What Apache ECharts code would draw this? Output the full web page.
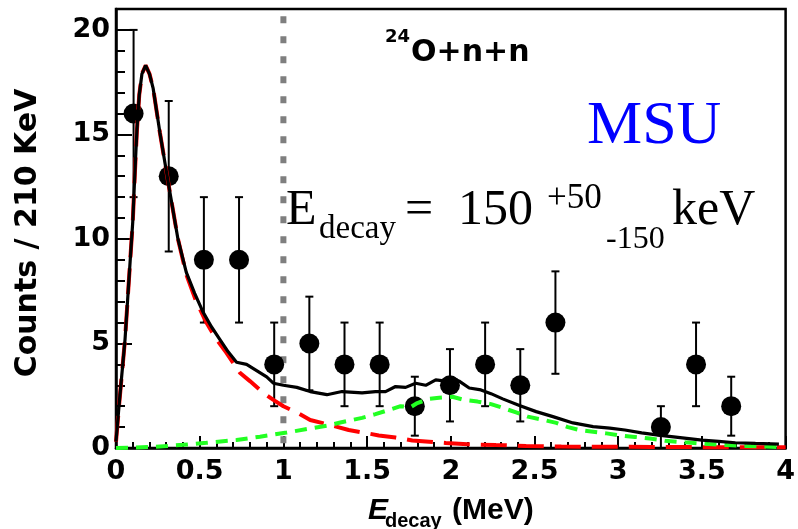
<!DOCTYPE html>
<html><head><meta charset="utf-8">
<script src="https://cdn.jsdelivr.net/npm/echarts@6/dist/echarts.min.js"></script>
<style>html,body{margin:0;padding:0;background:#fff}#c{width:798px;height:529px}</style>
</head><body><div id="c"></div>
<script>
// ---- data ----
const binCenters = [0.105,0.315,0.525,0.735,0.945,1.155,1.365,1.575,1.785,1.995,2.205,2.415,2.625,3.255,3.465,3.675];
const counts     = [16,13,9,9,4,5,4,4,2,3,4,3,6,1,4,2];
const errLow     = [12,9.4,6,6,2,2.76,2,2,0.59,1.27,2,1.27,3.55,0,2,0.59];
const errHigh    = [20,16.6,12,12,6,7.24,6,6,3.41,4.73,6,4.73,8.45,2,6,3.41];

const totalX = [0,0.02,0.054,0.085,0.1,0.113,0.125,0.139,0.155,0.177,0.2,0.222,0.262,0.312,0.37,0.42,0.47,0.52,0.57,0.62,0.67,0.72,0.78,0.84,0.9,0.94,1.0,1.08,1.16,1.26,1.35,1.47,1.55,1.61,1.67,1.73,1.79,1.85,1.91,1.97,2.01,2.05,2.11,2.18,2.24,2.31,2.41,2.51,2.61,2.73,2.85,2.95,3.04,3.14,3.24,3.37,3.5,3.6,3.7,3.82,3.96];
const totalY = [0.3,2.2,5.2,9.0,10.8,13.2,15.2,16.9,17.9,18.3,17.9,17.2,15.1,12.7,10.0,8.4,7.4,6.5,5.8,5.2,4.6,4.1,4.0,3.7,3.4,3.1,3.0,2.9,2.7,2.55,2.7,2.64,2.7,2.7,2.94,2.9,3.1,3.0,3.26,3.2,3.35,3.2,2.87,2.78,2.6,2.35,2.03,1.74,1.5,1.2,1.02,0.95,0.86,0.72,0.62,0.5,0.38,0.32,0.25,0.22,0.19];

const redX = [0,0.02,0.054,0.085,0.1,0.113,0.125,0.139,0.155,0.177,0.2,0.222,0.262,0.312,0.37,0.42,0.48,0.54,0.6,0.66,0.74,0.8,0.88,0.94,1.0,1.08,1.16,1.28,1.39,1.47,1.57,1.67,1.77,1.87,1.97,2.1,2.27,2.45,2.66,2.9,3.2,3.5,3.8,4.0];
const redY = [0.3,2.2,5.2,9.0,10.8,13.2,15.2,16.9,17.9,18.3,17.9,17.2,15.1,12.7,10.0,8.3,7.0,6.0,5.2,4.55,3.6,3.2,2.64,2.3,2.0,1.7,1.34,1.1,0.86,0.75,0.6,0.5,0.36,0.3,0.24,0.18,0.14,0.1,0.07,0.06,0.05,0.04,0.03,0.03];

const greenX = [0,0.1,0.22,0.4,0.54,0.72,0.86,1.02,1.18,1.28,1.34,1.47,1.55,1.63,1.7,1.76,1.8,1.87,1.93,2.01,2.08,2.16,2.24,2.31,2.39,2.46,2.55,2.63,2.7,2.77,2.85,2.93,3.01,3.1,3.19,3.28,3.4,3.54,3.65,3.76,3.88,3.96];
const greenY = [0,0.02,0.05,0.15,0.25,0.38,0.54,0.74,0.96,1.1,1.22,1.44,1.62,1.82,2.0,1.95,2.15,2.35,2.4,2.45,2.3,2.22,2.1,1.92,1.7,1.5,1.35,1.2,1.0,0.86,0.78,0.7,0.6,0.53,0.45,0.35,0.27,0.19,0.14,0.1,0.07,0.05];

const cutX = [1, 1];
const cutY = [20.65, 0];

const xMin = 0, xMax = 4, xStep = 0.5;
const yMin = 0, yMax = 21, yStep = 5;

const zip = (a, b) => a.map((v, i) => [v, b[i]]);

const chart = echarts.init(document.getElementById('c'), null, {renderer: 'canvas'});

function txt(text, x, y, font, fill, extra) {
  return Object.assign({type: 'text', x: x, y: y, z: 10,
    style: {text: text, font: font, fill: fill || '#000', align: 'left', verticalAlign: 'middle', textAlign: 'left', textVerticalAlign: 'middle'}}, extra || {});
}

chart.setOption({
  animation: false,
  grid: {left: 116, right: 11, top: 9, bottom: 81, show: true, borderColor: '#000', borderWidth: 2.5, backgroundColor: 'transparent'},
  xAxis: [{
    type: 'value', min: xMin, max: xMax, interval: xStep,
    axisLine: {show: true, onZero: false, lineStyle: {color: '#000', width: 2.5}},
    axisTick: {show: true, inside: true, length: 12, lineStyle: {color: '#000', width: 2}},
    minorTick: {show: true, splitNumber: 5, length: 6, lineStyle: {color: '#000', width: 2}},
    splitLine: {show: false},
    axisLabel: {color: '#000', fontFamily: 'DejaVu Sans', fontWeight: 'bold', fontSize: 27, margin: 10,
      formatter: v => String(v)}
  }],
  yAxis: [{
    type: 'value', min: yMin, max: yMax, interval: yStep,
    axisLine: {show: true, onZero: false, lineStyle: {color: '#000', width: 2.5}},
    axisTick: {show: true, inside: true, length: 16, lineStyle: {color: '#000', width: 2}},
    splitLine: {show: false},
    axisLabel: {color: '#000', fontFamily: 'DejaVu Sans', fontWeight: 'bold', fontSize: 27, margin: 6,
      formatter: v => (v % 5 === 0 ? String(v) : '')}
  }, {
    type: 'value', min: yMin, max: yMax, interval: 1, position: 'left',
    axisLine: {show: false},
    axisTick: {show: true, inside: true, length: 9, lineStyle: {color: '#000', width: 2}},
    splitLine: {show: false},
    axisLabel: {show: false}
  }],
  series: [
    {
      type: 'line', data: zip(cutX, cutY), showSymbol: false, symbol: 'none', z: 1,
      lineStyle: {color: '#7f7f7f', width: 6, type: [7, 13], cap: 'butt'}
    },
    {
      type: 'custom', z: 2,
      data: binCenters.map((x, i) => [x, errLow[i], errHigh[i]]),
      encode: {x: 0, y: [1, 2]},
      renderItem: (params, api) => {
        const x = api.value(0), lo = api.value(1), hi = api.value(2);
        const p1 = api.coord([x, lo]), p2 = api.coord([x, hi]);
        const cw = 4;
        const st = {stroke: '#000', lineWidth: 2};
        return {type: 'group', children: [
          {type: 'line', shape: {x1: p1[0], y1: p1[1], x2: p2[0], y2: p2[1]}, style: st},
          {type: 'line', shape: {x1: p2[0] - cw, y1: p2[1], x2: p2[0] + cw, y2: p2[1]}, style: st},
          {type: 'line', shape: {x1: p1[0] - cw, y1: p1[1], x2: p1[0] + cw, y2: p1[1]}, style: st}
        ]};
      }
    },
    {
      type: 'scatter', z: 3, data: zip(binCenters, counts), symbol: 'circle', symbolSize: 20,
      itemStyle: {color: '#000', opacity: 1}
    },
    {
      type: 'line', z: 4, data: zip(redX, redY), showSymbol: false, symbol: 'none',
      lineStyle: {color: '#ff0000', width: 4, type: [26, 11]}
    },
    {
      type: 'line', z: 5, data: zip(greenX, greenY), showSymbol: false, symbol: 'none',
      lineStyle: {color: '#22ff22', width: 4, type: [12, 8]}
    },
    {
      type: 'line', z: 6, data: zip(totalX, totalY), showSymbol: false, symbol: 'none',
      lineStyle: {color: '#000', width: 3.2}
    }
  ],
  graphic: [
    txt('Counts / 210 KeV', 28, 233, 'bold 30px "DejaVu Sans"', '#000',
      {rotation: Math.PI / 2, style: {text: 'Counts / 210 KeV', font: 'bold 30px "DejaVu Sans"', fill: '#000', align: 'center', verticalAlign: 'middle', textAlign: 'center', textVerticalAlign: 'middle'}}),
    txt('E', 368, 511, 'italic bold 30px "Liberation Sans"'),
    txt('decay', 385, 521, 'bold 20px "Liberation Sans"'),
    txt('(MeV)', 452, 511, 'bold 30px "Liberation Sans"'),
    txt('24', 385, 37, 'bold 18px "DejaVu Sans"'),
    txt('O+n+n', 411, 53, 'bold 30px "DejaVu Sans"'),
    txt('MSU', 587, 127, '62px "Liberation Serif"', '#0000ff'),
    txt('E', 286, 211, '50px "Liberation Serif"'),
    txt('decay', 319, 229, '33px "Liberation Serif"'),
    txt('=', 405, 211, '50px "Liberation Serif"'),
    txt('150', 458, 211, '50px "Liberation Serif"'),
    txt('+50', 547, 199, '35px "Liberation Serif"'),
    txt('-150', 606, 240, '32px "Liberation Serif"'),
    txt('keV', 672, 211, '50px "Liberation Serif"')
  ]
});
</script></body></html>
